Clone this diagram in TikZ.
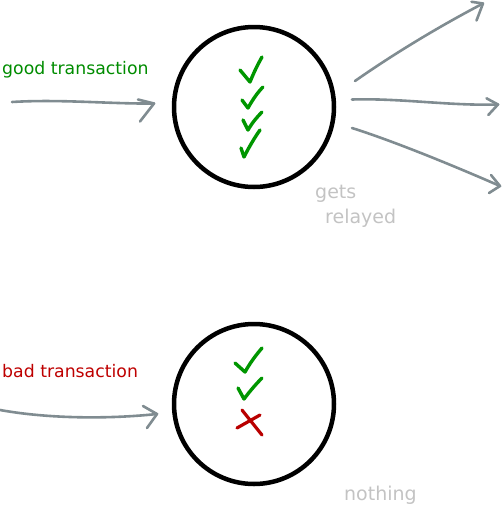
\documentclass[tikz,border=0pt]{standalone}
\usepackage{fontspec}
\setmainfont{DejaVu Sans}
\newfontfamily\handfont{DejaVu Sans}
\begin{document}
\begin{tikzpicture}[x=1pt,y=-1pt,
  node ring/.style={circle,draw=black,line width=4.5pt,minimum size=160pt,inner sep=0pt},
  flow/.style={draw=arrowgray,line width=2.6pt,line cap=round,line join=round},
  tick/.style={draw=tickgreen,line width=3.4pt,line cap=round,line join=round},
  cross/.style={draw=crossred,line width=3.2pt,line cap=round},
  label/.style={anchor=west,font=\fontsize{17.3}{20}\selectfont,inner sep=0pt},
  hand/.style={text=handgray,font=\handfont\fontsize{19}{21}\selectfont,inner sep=0pt}]
\definecolor{arrowgray}{RGB}{128,140,145}
\definecolor{tickgreen}{RGB}{0,150,0}
\definecolor{crossred}{RGB}{185,0,0}
\definecolor{handgray}{RGB}{195,195,195}
\definecolor{textgreen}{RGB}{0,140,0}
\definecolor{textred}{RGB}{190,0,0}
\useasboundingbox (0,0) rectangle (503,520);

% nodes
\node[node ring] (good) at (254,107) {};
\node[node ring] (bad) at (254,404) {};
\node[label,text=textgreen] (goodlbl) at (2,70) {good transaction};
\node[label,text=textred] (badlbl) at (2,371) {bad transaction};
\node[hand,anchor=west] (gets) at (315,194) {gets};
\node[hand,anchor=west] (relayed) at (325,218) {relayed};
\node[hand,anchor=west] (nothing) at (344,495) {nothing};

% arrow coordinates
\coordinate (gin) at (12,102);
\coordinate (gtip) at (154,103.5);
\coordinate (bin) at (0,410);
\coordinate (btip) at (157,414);
\coordinate (r1s) at (355,81);
\coordinate (r1t) at (483,3.5);
\coordinate (r2s) at (352,99.5);
\coordinate (r2t) at (498,104.5);
\coordinate (r3s) at (352,128);
\coordinate (r3t) at (500,186);

% incoming arrows
\draw[flow] (gin) .. controls (60,99) and (110,104) .. (gtip);
\draw[flow] (138,99.5) -- (gtip) -- (140,121.5);
\draw[flow] (bin) .. controls (50,419) and (110,419) .. (btip);
\draw[flow] (143,406) -- (btip) -- (147,428);

% relay arrows
\draw[flow] (r1s) .. controls (395,53) and (440,26) .. (r1t);
\draw[flow] (471.5,1.8) -- (r1t) -- (476.5,20.5);
\draw[flow] (r2s) .. controls (400,98) and (450,106) .. (r2t);
\draw[flow] (486.5,98.3) -- (r2t) -- (488.3,115);
\draw[flow] (r3s) .. controls (390,140) and (445,162) .. (r3t);
\draw[flow] (491,175) -- (r3t) -- (489,193);

% ticks in good node
\draw[tick] (240,70) -- (250,82) .. controls (254,72) and (258,64) .. (262,57);
\draw[tick] (242,100) -- (248,108) .. controls (253,99) and (258,92) .. (263,87);
\draw[tick] (243,120) -- (248,130) .. controls (252,123) and (257,117) .. (262,112);
\draw[tick] (241,148) -- (244,157) .. controls (249,147) and (255,137) .. (260,130);

% ticks and cross in bad node
\draw[tick] (235,363) -- (245,372) .. controls (250,363) and (256,355) .. (262,348);
\draw[tick] (238,388) -- (244,399) .. controls (250,391) and (256,384) .. (262,378);
\draw[cross] (237,428) -- (260,415);
\draw[cross] (242,410) -- (262,435);
\end{tikzpicture}
\end{document}
